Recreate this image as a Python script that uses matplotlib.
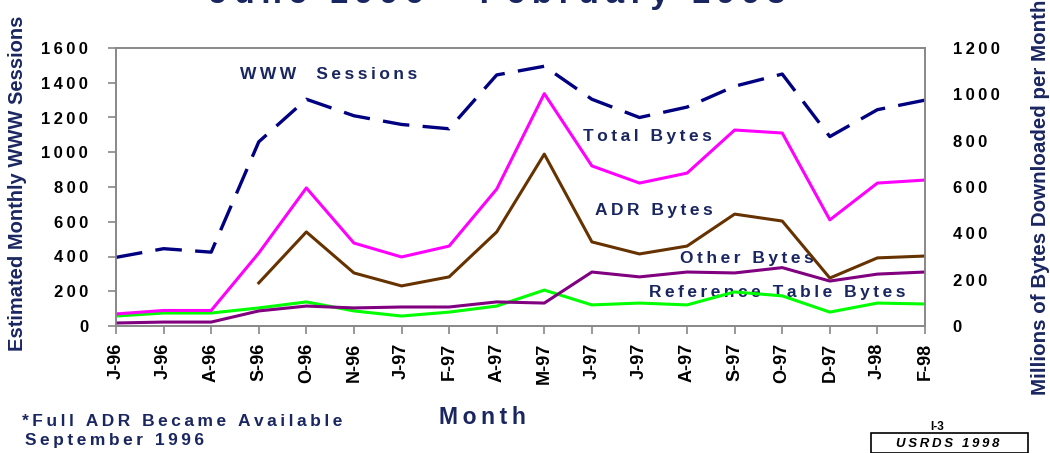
import matplotlib.pyplot as plt
from matplotlib.patches import Rectangle

months = ['J-96', 'J-96', 'A-96', 'S-96', 'O-96', 'N-96', 'J-97', 'F-97', 'A-97',
          'M-97', 'J-97', 'J-97', 'A-97', 'S-97', 'O-97', 'D-97', 'J-98', 'F-98']

# left axis: sessions
www_sessions = [395, 445, 425, 1060, 1305, 1210, 1160, 1135, 1445,
                1495, 1305, 1200, 1260, 1380, 1450, 1090, 1245, 1300]

# right axis: millions of bytes
total_bytes = [52, 67, 67, 315, 596, 358, 298, 345, 591,
               1003, 691, 617, 660, 846, 833, 458, 617, 630]
adr_bytes = [None, None, None, 186, 406, 229, 173, 212, 406,
             742, 363, 311, 345, 483, 453, 207, 294, 302]
other_bytes = [13, 17, 17, 65, 86, 78, 82, 82, 104,
               99, 233, 212, 233, 229, 252, 194, 224, 233]
ref_table_bytes = [43, 56, 56, 78, 104, 65, 43, 60, 86,
                   155, 91, 99, 91, 147, 130, 60, 99, 95]

NAVY = '#1a2660'
FONT = 'Liberation Sans'


def spaced(s, sep='\u2009'):
    return sep.join(s)


x = list(range(len(months)))

fig = plt.figure(figsize=(10.5, 4.53), dpi=100)
ax = fig.add_axes([116 / 1050, 1 - 326 / 453, (925 - 116) / 1050, (326 - 48) / 453])
ax2 = ax.twinx()

ax.plot(x, www_sessions, color='#000080', lw=2.4, dashes=(8, 4), zorder=5)

adr_x = [i for i, v in zip(x, adr_bytes) if v is not None]
adr_y = [v for v in adr_bytes if v is not None]
ax2.plot(x, ref_table_bytes, color='#00ff00', lw=2.2)
ax2.plot(x, other_bytes, color='#800080', lw=2.2)
ax2.plot(adr_x, adr_y, color='#663300', lw=2.2)
ax2.plot(x, total_bytes, color='#ff00ff', lw=2.2)

ax.set_xlim(0, len(months) - 1)
ax.set_ylim(0, 1600)
ax2.set_ylim(0, 1200)
ax.set_yticks(range(0, 1601, 200))
ax2.set_yticks(range(0, 1201, 200))
ax.set_yticklabels([spaced(str(v)) for v in range(0, 1601, 200)],
                   fontfamily=FONT, fontweight='bold', fontsize=12)
ax2.set_yticklabels([spaced(str(v)) for v in range(0, 1201, 200)],
                    fontfamily=FONT, fontweight='bold', fontsize=12)
ax.set_xticks(x)
ax.set_xticklabels(months, rotation=90, fontfamily=FONT, fontweight='bold', fontsize=13)

for a in (ax, ax2):
    for s in a.spines.values():
        s.set_color('#888888')
        s.set_linewidth(1.2)
ax.tick_params(axis='both', length=6, width=1.2, color='#888888', pad=4)
ax.tick_params(axis='x', pad=6)
ax.tick_params(axis='y', pad=14)
ax2.tick_params(axis='y', length=0, pad=20)

# series labels inside plot
lbl = dict(fontfamily=FONT, fontweight='bold', fontsize=12.5, color=NAVY)
ax.text(0.153, 0.89, spaced('WWW  Sessions'), transform=ax.transAxes, **lbl)
ax.text(0.577, 0.665, spaced('Total Bytes'), transform=ax.transAxes, **lbl)
ax.text(0.592, 0.40, spaced('ADR Bytes'), transform=ax.transAxes, **lbl)
ax.text(0.697, 0.225, spaced('Other Bytes'), transform=ax.transAxes, **lbl)
ax.text(0.659, 0.105, spaced('Reference Table Bytes'), transform=ax.transAxes, **lbl)

# axis titles
fig.text(18 / 1050, 1 - 183 / 453, 'Estimated Monthly WWW Sessions', rotation=90,
         ha='center', va='center', fontfamily=FONT, fontweight='bold',
         fontsize=14.5, color=NAVY)
fig.text(1040 / 1050, 1 - 197 / 453, 'Millions of Bytes Downloaded per Month', rotation=90,
         ha='center', va='center', fontfamily=FONT, fontweight='bold',
         fontsize=14.8, color=NAVY)
fig.text(482 / 1050, 1 - 418 / 453, spaced('Month'), ha='center', va='center',
         fontfamily=FONT, fontweight='bold', fontsize=16.5, color=NAVY)

# title, mostly cropped off the top
fig.text(497 / 1050, 1 - 10 / 453, spaced('June 1996 - February 1998'), ha='center',
         va='bottom', fontfamily=FONT, fontweight='bold', fontsize=24, color=NAVY)

# footnote
fig.text(22 / 1050, 1 - 422 / 453, spaced('*Full ADR Became Available'), ha='left',
         va='center', fontfamily=FONT, fontweight='bold', fontsize=12.5, color=NAVY)
fig.text(25 / 1050, 1 - 441 / 453, spaced('September 1996'), ha='left',
         va='center', fontfamily=FONT, fontweight='bold', fontsize=12.5, color=NAVY)

fig.text(937 / 1050, 1 - 427 / 453, 'I-3', ha='center', va='center',
         fontfamily=FONT, fontweight='bold', fontsize=8.5, color='black')
fig.patches.append(Rectangle((871 / 1050, 0.0), (1028 - 871) / 1050, 20 / 453,
                             transform=fig.transFigure, fill=False,
                             edgecolor='black', lw=1.2))
fig.text(948 / 1050, 1 - 444 / 453, spaced('USRDS 1998'), ha='center', va='center',
         fontfamily=FONT, fontweight='bold', fontstyle='italic', fontsize=9.5,
         color='black')

fig.savefig('out.png', dpi=100)
